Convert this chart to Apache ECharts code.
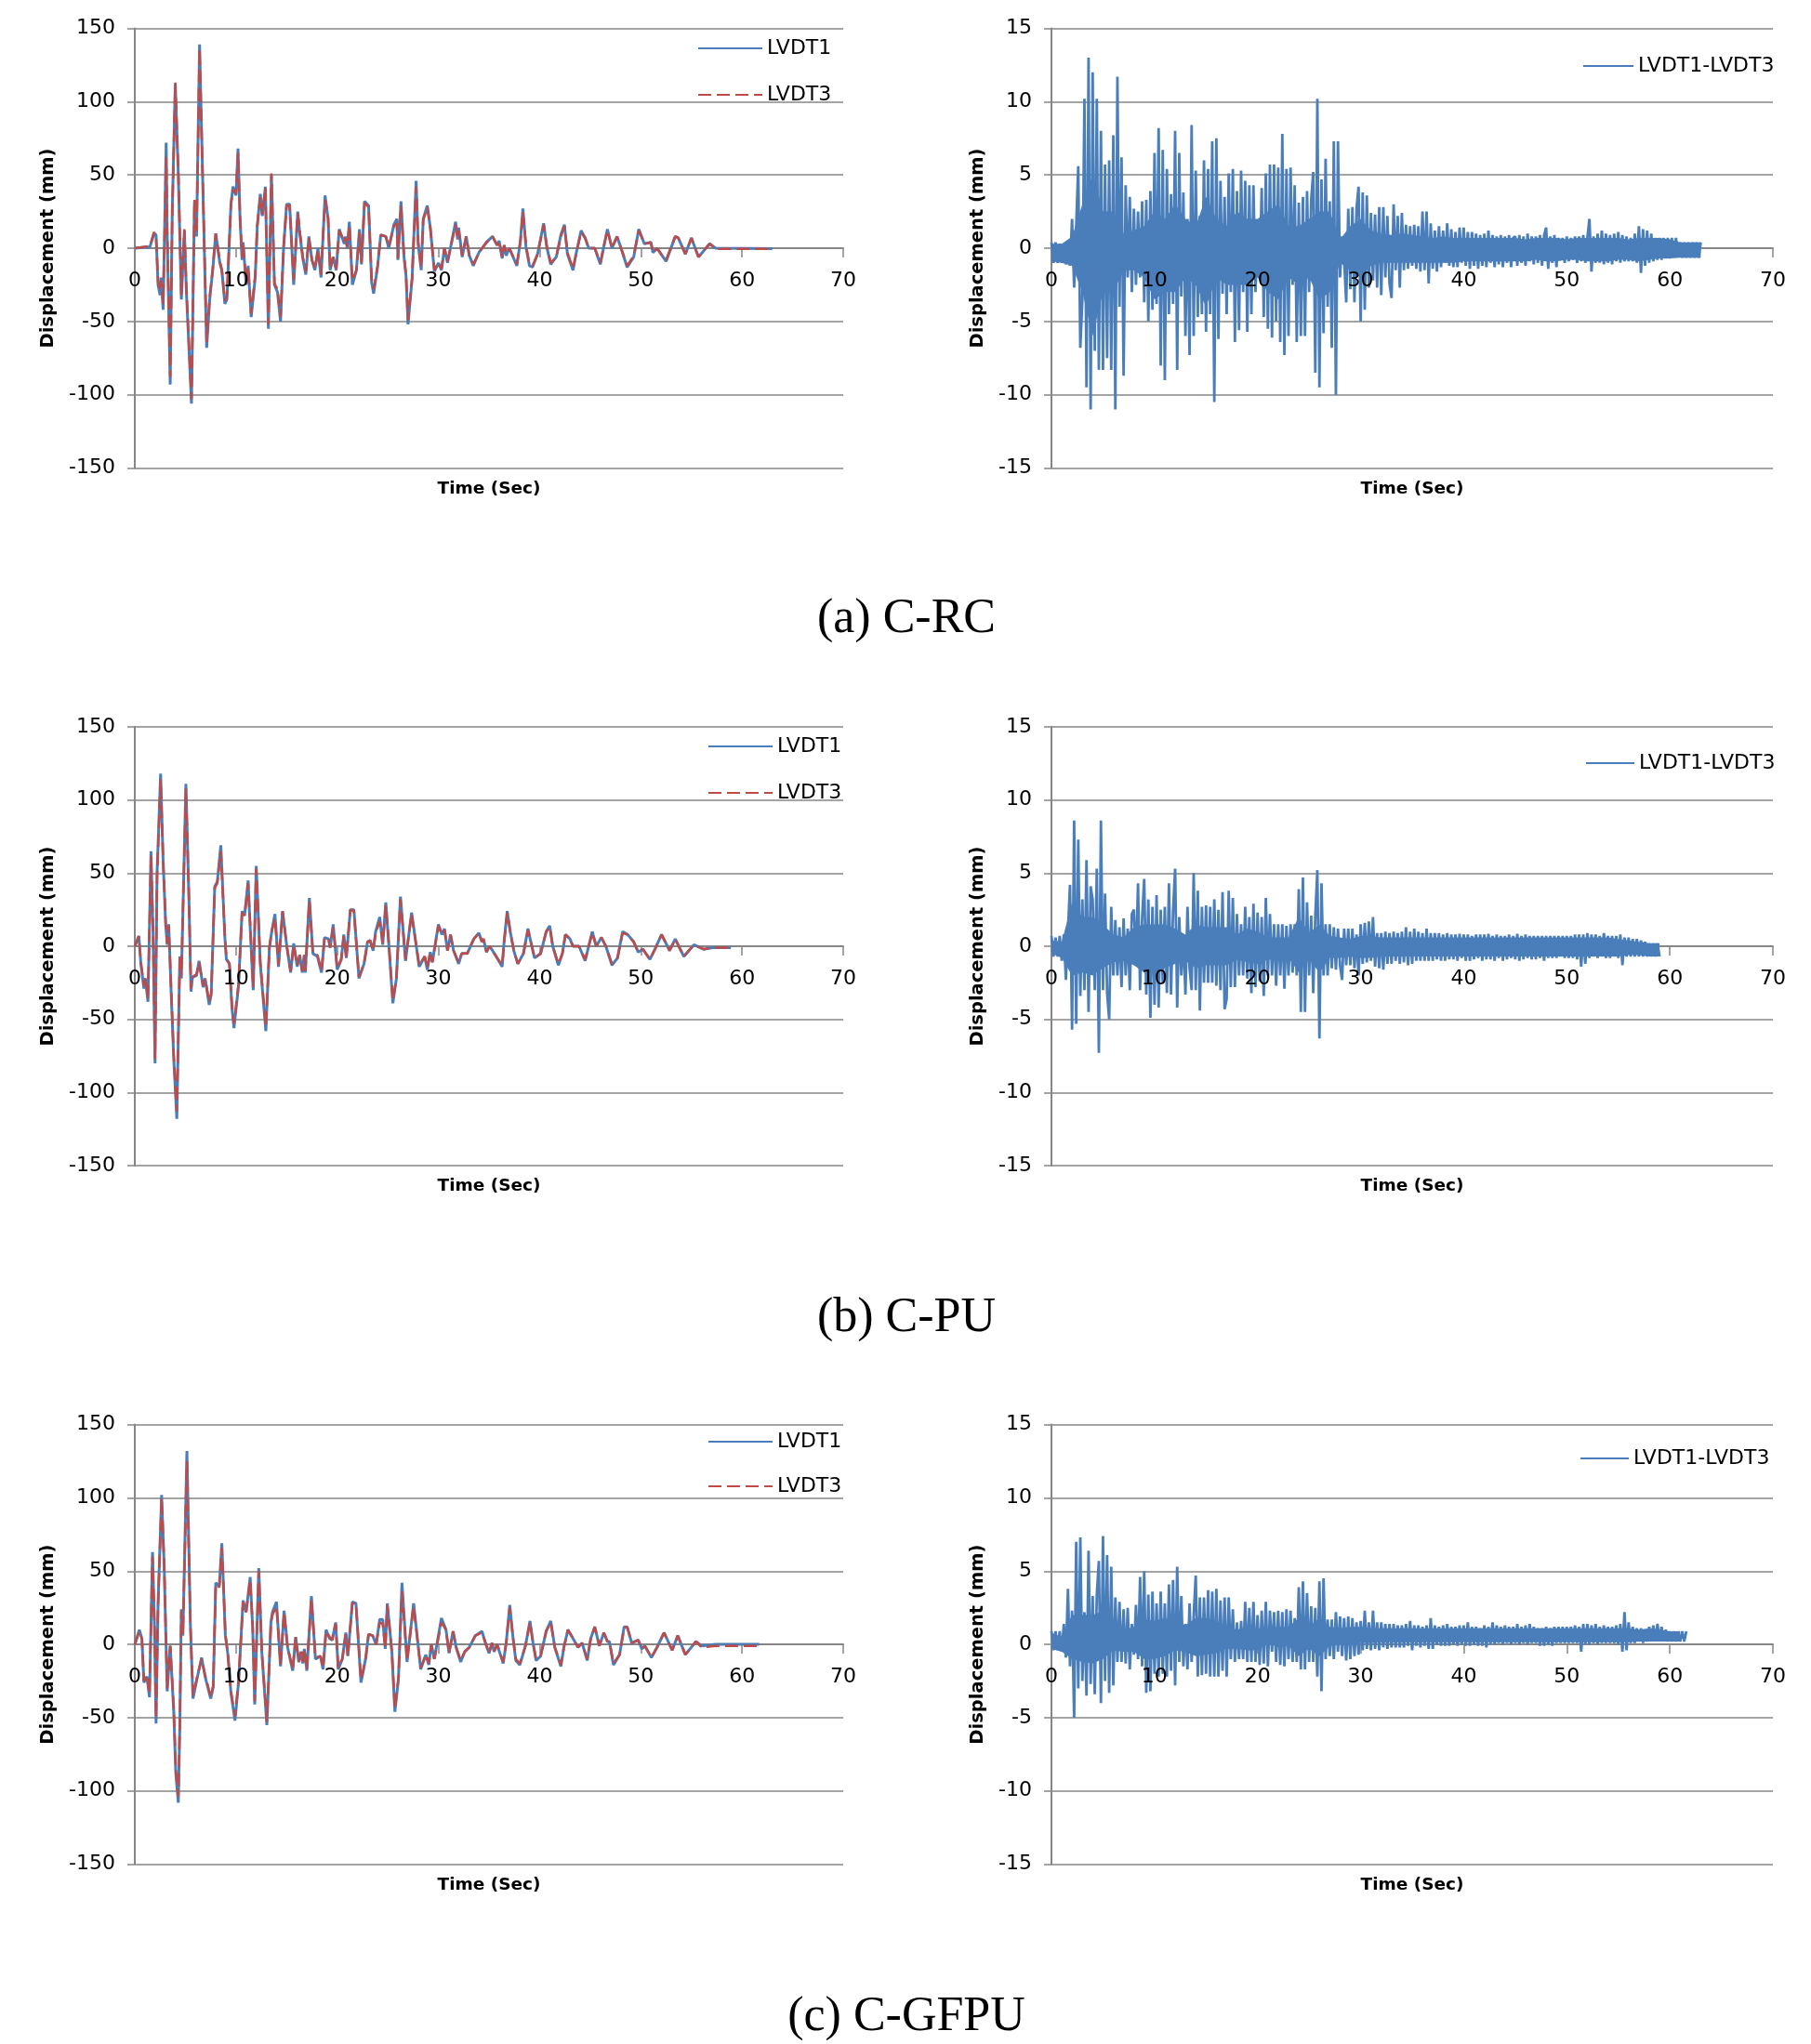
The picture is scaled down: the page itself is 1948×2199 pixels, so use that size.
<!DOCTYPE html>
<html>
<head>
<meta charset="utf-8">
<style>html,body{margin:0;padding:0;background:#fff}#c{width:1948px;height:2199px}</style>
<script src="https://cdn.jsdelivr.net/npm/echarts@6/dist/echarts.min.js"></script>
</head>
<body>
<div id="c"></div>
<script>
// Each row: time (s), LVDT1 (mm), LVDT3 (mm)
const rcRows = [[0,0,0],[1.5,1,1.5],[1.9,10,11],[2.1,9,8],[2.3,-25,-23],[2.5,-32,-29],[2.6,-20,-22],[2.8,-42,-38],[3.1,72,62],[3.2,10,12],[3.5,-93,-88],[3.7,25,22],[4,112,113],[4.3,50,52],[4.6,-35,-32],[4.9,12,13],[5.1,-30,-28],[5.6,-106,-103],[5.9,32,33],[6.1,8,10],[6.4,139,136],[6.8,20,22],[7.1,-68,-64],[7.4,-35,-33],[7.7,-15,-14],[8,10,10],[8.4,-10,-9],[8.6,-15,-15],[8.9,-38,-36],[9.1,-35,-33],[9.5,30,30],[9.7,42,40],[10,36,37],[10.2,68,65],[10.4,20,22],[10.6,-8,-6],[10.7,4,3],[11,-25,-23],[11.2,-12,-13],[11.5,-47,-45],[11.9,-20,-18],[12.1,15,15],[12.4,37,35],[12.6,22,23],[12.9,42,41],[13.2,-55,-52],[13.5,50,51],[13.8,-25,-24],[14.1,-30,-28],[14.4,-50,-47],[14.7,0,1],[15,30,29],[15.3,30,29],[15.7,-25,-22],[16.1,25,24],[16.3,10,12],[16.6,-7,-6],[16.9,-18,-16],[17.2,8,7],[17.5,-8,-8],[17.8,-15,-14],[18.1,0,-1],[18.4,-20,-18],[18.8,36,33],[19.1,20,21],[19.3,-15,-14],[19.6,-6,-6],[19.9,-15,-14],[20.2,13,12],[20.7,3,4],[20.8,8,7],[21,0,1],[21.2,18,16],[21.5,-25,-22],[21.9,-15,-15],[22.2,13,11],[22.4,-11,-10],[22.7,32,31],[23.1,29,28],[23.4,-23,-21],[23.6,-31,-28],[24,-12,-12],[24.3,9,9],[24.8,8,8],[25.1,0,1],[25.6,16,15],[25.9,20,17],[26,-8,-7],[26.3,32,29],[26.6,-6,-5],[26.8,-19,-18],[27,-52,-49],[27.4,-21,-20],[27.8,46,42],[28,3,4],[28.3,-15,-13],[28.5,20,19],[28.9,29,28],[29.2,14,14],[29.6,-16,-15],[30,-10,-10],[30.3,-15,-14],[30.6,0,0],[30.9,-10,-9],[31.7,18,16],[31.9,6,7],[32,14,12],[32.35,-6,-5],[32.75,8,8],[33.05,-5,-5],[33.45,-12,-11],[34,-3,-3],[34.75,4,4],[35.35,8,8],[35.8,2,2],[36,5,5],[36.3,-7,-6],[36.5,2,2],[36.7,-5,-4],[37,0,0],[37.75,-12,-11],[38.1,5,4],[38.35,27,25],[38.65,1,2],[39,-12,-11],[39.3,-13,-12],[39.8,-4,-4],[40.4,17,16],[40.7,1,2],[41.1,-11,-10],[41.65,-6,-6],[42.1,9,8],[42.45,16,15],[42.75,-4,-3],[43.3,-15,-14],[43.6,-4,-4],[44.1,12,11],[44.5,7,7],[44.85,0,0],[45.45,0,0],[46,-11,-10],[46.4,3,3],[46.7,13,12],[47.15,0,0],[47.65,8,8],[48.05,0,0],[48.65,-13,-12],[49.3,-6,-5],[49.8,13,12],[50.35,3,3],[51,4,4],[51.2,-3,-3],[51.6,0,0],[52,-4,-4],[52.5,-9,-8],[53.4,8,8],[53.7,7,7],[54.4,-4,-4],[55,7,7],[55.7,-6,-6],[56.8,3,3],[57.4,0,-.5],[63,-.3,-.5]];
const puRows = [[0,0,0],[.4,7,7],[.6,-12,-11],[.9,-29,-27],[1.05,-22,-21],[1.3,-38,-36],[1.6,65,62],[1.8,10,12],[2,-80,-77],[2.2,50,48],[2.55,118,114],[2.8,58,59],[3.05,15,16],[3.2,1,2],[3.35,15,14],[3.6,-33,-31],[3.85,-77,-75],[4.15,-118,-113],[4.45,-7,-8],[4.6,-22,-20],[5.05,111,108],[5.35,32,33],[5.55,-31,-29],[5.7,-21,-21],[6.1,-20,-19],[6.35,-10,-11],[6.75,-28,-27],[6.95,-22,-22],[7.35,-40,-38],[7.55,-33,-32],[7.9,41,40],[8.15,44,43],[8.5,69,65],[8.9,6,7],[9.05,-9,-8],[9.35,-12,-12],[9.6,-42,-40],[9.8,-56,-53],[10.25,-27,-26],[10.6,24,23],[10.85,21,21],[11.2,45,43],[11.3,28,29],[11.7,-30,-28],[12,55,53],[12.4,-12,-11],[12.95,-58,-55],[13.3,-1,-1],[13.55,11,11],[13.85,22,19],[14.2,-14,-13],[14.6,24,24],[15,1,1],[15.4,-18,-17],[15.7,2,1],[16.05,-14,-13],[16.3,-6,-6],[16.55,-18,-17],[16.75,-6,-6],[16.85,-18,-17],[17.25,33,31],[17.6,-5,-5],[18.05,-7,-6],[18.45,-18,-17],[18.75,6,6],[19.15,5,5],[19.3,-1,-1],[19.6,15,13],[20,-16,-15],[20.4,-9,-9],[20.65,8,7],[20.9,-8,-8],[21.3,25,25],[21.65,25,24],[22.15,-22,-21],[22.65,-12,-12],[23,3,3],[23.25,4,4],[23.55,-3,-3],[23.8,10,9],[24.2,20,17],[24.5,1,2],[24.8,30,28],[25.1,1,2],[25.5,-39,-37],[25.85,-22,-22],[26.25,34,32],[26.75,-10,-9],[27.35,23,22],[28.1,-14,-13],[28.65,-7,-7],[28.9,-16,-15],[29.2,-4,-4],[29.4,-11,-11],[30,15,14],[30.35,8,8],[30.6,12,11],[30.9,-3,-3],[31.2,8,8],[31.5,-3,-3],[32,-12,-11],[32.3,-5,-5],[32.85,-5,-5],[33.5,5,5],[34,9,9],[34.3,3,3],[34.45,5,5],[34.75,-4,-4],[35.05,0,0],[35.35,-3,-3],[35.8,-8,-8],[36.3,-14,-13],[36.5,4,3],[36.8,24,23],[37.1,10,10],[37.45,-3,-3],[37.85,-12,-12],[38.4,-5,-5],[38.85,12,11],[39.1,4,4],[39.5,-8,-8],[40.1,-5,-5],[40.65,10,10],[41,14,13],[41.3,0,0],[41.85,-13,-12],[42.25,-5,-5],[42.55,8,8],[43,5,5],[43.3,0,0],[43.9,0,0],[44.5,-10,-9],[44.85,0,0],[45.2,10,9],[45.6,0,0],[46.1,6,6],[46.55,0,0],[47.15,-13,-12],[47.7,-8,-8],[48.2,10,9],[48.7,8,8],[49.3,3,3],[49.75,-4,-4],[50.2,-2,-2],[50.9,-9,-9],[51.4,-2,-2],[52.05,8,8],[52.85,-3,-3],[53.4,5,5],[54.25,-7,-7],[55.25,1,1],[56.2,-2,-2],[57.1,-1,-1],[58.9,-1,-1]];
const gfpuRows = [[0,0,0],[.45,10,9],[.7,4,4],[.9,-26,-25],[1.2,-22,-21],[1.45,-36,-34],[1.75,63,60],[1.95,11,12],[2.1,-54,-50],[2.3,28,27],[2.65,102,100],[2.9,54,55],[3.2,-32,-30],[3.5,-1,-1],[3.85,-46,-44],[4.05,-88,-85],[4.3,-108,-104],[4.45,-55,-53],[4.6,24,23],[4.75,6,7],[5.15,132,125],[5.5,11,12],[5.75,-37,-35],[6.1,-25,-24],[6.6,-9,-10],[6.95,-22,-21],[7.5,-37,-36],[7.75,-29,-28],[8,42,41],[8.35,40,39],[8.6,69,66],[8.95,6,7],[9.2,-7,-7],[9.5,-33,-32],[9.9,-52,-49],[10.25,-26,-25],[10.7,30,29],[11,22,22],[11.4,46,44],[11.65,11,12],[11.85,-41,-39],[12.25,52,50],[12.55,-5,-5],[13.05,-55,-53],[13.45,15,15],[13.6,22,20],[14,29,26],[14.4,-15,-14],[14.75,23,22],[15.1,-2,-2],[15.6,-18,-17],[15.9,5,5],[16.2,-12,-12],[16.45,-5,-5],[16.6,-13,-12],[16.75,-3,-3],[17,-18,-17],[17.45,33,31],[17.85,-10,-9],[18.35,-8,-8],[18.6,-17,-16],[18.9,10,9],[19.25,4,5],[19.5,3,3],[19.85,15,14],[20.1,-17,-16],[20.5,-10,-10],[20.85,8,7],[21.05,-8,-8],[21.5,29,28],[21.85,28,28],[22.35,-26,-24],[22.8,-10,-11],[23.1,7,7],[23.5,6,6],[23.85,0,0],[24.2,17,15],[24.5,17,14],[24.75,-3,-3],[24.95,28,27],[25.4,-5,-5],[25.7,-46,-44],[26.05,-24,-23],[26.4,42,36],[26.9,-12,-11],[27.55,28,26],[28.25,-17,-16],[28.75,-7,-7],[29.05,-14,-13],[29.3,0,0],[29.6,-10,-10],[30.3,18,15],[30.75,10,10],[31.05,-6,-6],[31.45,9,9],[31.75,-2,-2],[32.2,-12,-11],[32.6,-5,-5],[33.05,-2,-2],[33.65,6,6],[34.3,9,8],[34.6,2,2],[35,-6,-6],[35.3,1,1],[35.5,-5,-5],[35.8,0,0],[36.4,-13,-12],[36.7,1,1],[37.05,27,25],[37.35,6,6],[37.65,-11,-10],[38.05,-14,-13],[38.6,-1,-1],[39.05,16,15],[39.35,1,1],[39.65,-11,-10],[40.1,-8,-8],[40.65,9,9],[41.1,16,15],[41.5,-2,-2],[42.1,-15,-14],[42.4,-2,-2],[42.8,10,10],[43.3,4,4],[43.8,-2,-2],[44.2,1,1],[44.7,-11,-10],[45.05,4,4],[45.45,12,12],[45.9,-1,-1],[46.35,8,8],[46.7,2,2],[46.9,2,2],[47.3,-14,-13],[47.9,-7,-7],[48.35,12,11],[48.65,12,12],[49.1,1,1],[49.75,3,3],[50.1,-3,-3],[50.4,-1,-1],[51.05,-9,-9],[51.6,-2,-2],[52.3,8,8],[53.1,-4,-4],[53.65,6,6],[54.4,-7,-7],[55.45,2,2],[56,-1,-2],[57.4,0,-1],[61.7,0,-1]];
// LVDT1-LVDT3 (mm) spikes, read every 0.2 s
const sampleStep = 0.2;
const rcDiff = [
.4,-1,.4,-1,.3, -1,.3,-1.1,.2,-1.2, 2,-2.7,1.5,5.6,-6.8, -3.5,10.2,-9.5,13,-11, 12,-7,10.2,-8.3,8,
-8.3,5.7,-7.5,6,-8.3, 7.7,-11,11.7,-4,6.2, -8.7,4.3,-2,3.5,-3, 2.7,-2.5,2.5,-2,3.2, -3.7,3.3,-5,3.9,-4.2,
6.5,-3.8,8.2,-8,6.7, -9,5.4,-4.5,3.7,-3.8, 8,-8.3,6.5,-3.3,3.8, -6,2,-7.3,8.4,-6, 5.3,-4.7,2.2,-4.5,6,
-5.7,5.4,-4.5,7.3,-10.5, 7.5,-6.2,4.6,-3.1,3.5, -4.5,5.1,-3,5.4,-6.4, 3.9,-5.6,5.3,-3,4.6, -5.7,4.3,-4.5,4.3,-3,
1.3,-2,4.1,-4.7,5.1, -5.5,5.7,-6.1,5.7,-5, 5.5,-6.4,7.8,-7.3,5.4, -6,5.5,-2.5,4.3,-6.4, 3.1,-6,3.5,-6,3.9,
-3,3.3,5.2,-8.5,10.2, -9.5,4.7,-5.8,6.1,-4, 3.2,-6.8,7.3,-10,7.3, -2,.8,-.8,-3.7,2.7, -2.8,2.8,-3.7,2.7,4.2,
-5,3.8,-4.2,3.6,-2.7, 2.4,-2.2,2.3,-2.7,2.8, -3.2,2.8,-2,2.2,-2.4, -3.4,3,-1.5,2.2,-2.7, 2.4,-1.5,1.6,-1.4,1.5,
-1.2,1.6,-1.4,1.5,-1.6, 2.5,-1.5,2.5,-2.4,1.7, -1.4,1.2,-1.6,1.5,-1.3, 1.2,-1,1.7,-1.2,1.3, -1.3,1.1,-1.3,1.4,-1,
1.4,-1.2,1.1,-1.4,1.1, -1.2,1,-1.4,.9,-1.2, 1,-1.3,1.2,-1,.9, -1.3,.8,-1.1,.9,-1.3, .8,-1,.9,-1.3,.7,
.8,-1.2,.9,-1,.8, -1.2,1,-.9,.8,-1.1, .8,-1,.9,-1.2,.9, 1.4,-1.4,.8,-1,.9, -1.3,.7,-.8,.7,-1,
.8,-.9,.7,-.8,.8, -1,.8,-.9,.9,-1, .7,2,-1.6,.8,-1, 1,-1,1.2,-1.1,1, -1,.9,-1.1,1,-.9,
1.1,-1,.9,-.9,.8, -.9,.7,-.9,1,-1, 1.5,-1.7,1.3,-1.2,1.2, -1,1,-.9,.7,-.8, .7,-.8,.7,-.7,.7,
-.7,.7,-.6,.7,-.6, .4,-.65,.4,-.65,.4, -.65,.4,-.65,.4,-.65, .4];
const puDiff = [
.7,-.7,.6,-.7,.7, -1,.8,-2.3,1,4.2, -5.7,8.6,-5.3,7.3,-3.4, 3.2,-3,5.9,-4.5,4.1, 3.2,-3,5.3,-7.3,8.6,
-3,3.6,-3.2,-5,2.7, -2,1.8,-2,1.3,-2.8, 1.9,-2,1.2,-3,2.2, 2.5,-1.2,4.3,-3,2, 4.6,-3.3,3.2,-4.9,2.7,
-4,3.5,-4.2,2.5,-2.5, 2.7,-3.2,4.3,-3.3,2.4, 5.3,-4.2,2,-2,.6, -3.3,2.7,-1.5,-3,5, -3,3.8,-4.4,2.7,-2.5,
2.8,-2.5,2.7,-2.5,3.2, -2.7,2.5,-3,3.7,-4.3, -3.6,3.8,-2.8,3.3,-2.8, 2.2,-2,1.5,-2,2.7, -2.2,2,-3.2,2.9,-2.8,
2.3,-2.4,2,-3.4,3.3, -2,2.2,-2,1.5,-2.7, 1.5,-2,1.5,-2.9,1.4, -2,1.5,-1.8,1.5,-2, 3.9,-4.5,4.7,-4.5,3,
-2,2.1,-3.2,2.1,5.2, -6.3,4.3,-2,1.5,-2, 1.5,-1.5,1.3,-1.6,1.2, -1.3,-2.3,1.2,-1.3,1.2, -1.3,1.2,-1.5,.8,-2,
1.5,-1.2,1.6,-1.1,1.7, -1,2,-1.4,.9,-1.5, .9,-1.6,1,-1.2,.9, -1.2,1,-1,.9,-1.2, 1,-1.1,1.3,-1.3,1,
-1.2,1.2,-1,1,-1, .9,-1,1.2,-1,.9, -1,.9,-.9,.9,-1, .8,-1,.9,-.9,.8, -.9,.8,-1,.85,-.8,
.8,-1,.8,-1,.7, -.9,.8,-.8,.8,-1, .8,-.9,.85,-.9,.7, -1,.8,-.8,.7,-1, .7,-.9,.8,-.8,.7,
-.9,.85,-1,.7,-.9, .8,-.8,.7,-.9,.7, -.9,.7,-.8,.7,-1, .7,-.8,.7,-.8,.7, -.8,.7,-.7,.7,-.8,
.7,-.8,.7,-.8,.8, -.9,.8,-1.4,.8,-1.2, .9,-.8,.8,-.7,.8, -.8,.7,-.7,.9,-.8, .7,-.8,.7,-.7,.7,
-.8,.8,-1.3,.6,-.7, .6,-.7,.5,-.7,.5, -.7,.4,-.7,.3,-.7, .2,-.7,.2,-.7,.2, -.7];
const gfpuDiff = [
.9,-.4,.9,-.4,.9, -.5,1.4,-.9,3.8,-1.5, 2.3,-5,7,-3,7.3, -2.5,2.2,-3.5,6.4,-2.7, 3.3,-3.4,3.4,5.7,-4,
7.4,-2.5,6.1,-3.3,5.3, -2.8,3.2,-1.2,2.9,-1.2, 2.4,-1.3,2.5,-1.7,1.4, -.7,2.7,-1,4.6,-1.5, 5,-3.3,3.4,-3.2,3.6,
-2,2.8,-2.2,3.6,-2, 2.8,-2.2,4.1,-1.8,4.4, -2.8,5.3,-1.2,3.3,-1.5, 1.4,-1.7,2.8,-1.2,2, 4.7,-2.2,3.2,-2.1,3.2,
-2,3.7,-2.2,3.6,-2.2, 3.8,-2.2,3,-1.8,3.2, -2.2,3.2,-1,2.4,-1.2, 1.5,-1,1.6,-1,2.9, -1.2,2.5,-1.2,2.9,-1.2,
2,-1.4,2.3,-1.3,2.9, -1.5,2.3,-.5,2.2,-1.2, 2.3,-1.4,2.2,-1.5,2.4, -1,2.3,-1.2,1.8,-1.2, 3.9,-1.7,4.3,-1.7,3.5,
-1.2,2.6,-1.2,2.5,-2.2, 4.3,-3.2,4.5,-1,1.7, -.8,1.7,-1,2.2,-.5, 1.9,-.8,1.8,-1.1,1.9, -1,1.8,-.8,1.5,-.7,
1.6,-.4,2.3,-.3,1.5, -.4,2.3,-.3,1.5,-.4, 1.5,-.2,1.4,-.3,1.4, -.2,1.4,-.2,1.3,-.2, 1.3,-.2,1.4,-.1,1.6,
-.4,1.3,-.1,1.3,-.2, 1.2,-.1,1.3,-.3,1.8, -.3,1.3,0,1.2,-.1, 1.3,-.1,1.4,-.1,1.2, 0,1.2,-.1,1.3,0,
1.3,-.1,1.5,-.1,1.2, 0,1.2,-.1,1.1,-.1, 1.3,-.2,1.2,0,1.5, 0,1.3,.1,1.2,0, 1.3,.1,1.2,0,1.2,
.1,1.4,0,1.2,.1, 1.3,0,1.4,.1,1.2, .1,1.1,-.1,1.1,-.1, 1.2,0,1.1,-.1,1.2, .1,1.2,.1,1.2,.1,
1.2,.1,1.2,.1,1.3, .1,1.2,-.5,1.4,0, 1.4,0,1.3,.1,1.4, 0,1.2,.1,1.3,.1, 1.2,.1,1.2,.1,1.3,
0,1.4,-.5,2.2,-.4, 1.5,.1,1.2,.1,1.1, .2,1.1,.1,1,.2, 1.2,.3,1.3,.3,1.4, .3,1.2,.3,1,.2,
.9,.2,.9,.2,.9, .2,.9,.2,.9];
// Solid core band of the LVDT1-LVDT3 trace: upper and lower edge (mm), read once per second
const rcCoreHi = [.3,.3,.8,3,5,2.5,2.5,1,1.2,1.5,2.5,2,3,2,1.5,3.5,2,1.5,2.5,2,2,2.5,3,1.5,1.5,2,2.5,2.5,.6,1.5,2,1.2,1,.9,1,.9,.8,.7,.8,.7,.7,.7,.7,.7,.7,.7,.6,.7,.7,.7,.6,.7,.7,.7,.7,.7,.6,.7,.7,.7,.6,.4,.4,.4];
const rcCoreLo = [-.9,-1,-1.2,-3,-6,-3,-3,-1.5,-1.5,-2,-3.5,-3,-3,-2,-2.5,-4,-2,-2.5,-2.5,-2.5,-2,-3,-3.5,-2,-2.5,-2,-3.5,-3,-1,-1.5,-2,-1.2,-1,-1,-1,-1,-1,-1,-1,-1,-.9,-.9,-.9,-.9,-.9,-.9,-.9,-.8,-.9,-.9,-.8,-.8,-.9,-.9,-.9,-.8,-.8,-.9,-.8,-.7,-.7,-.65,-.65,-.65];
const puCoreHi = [.4,.3,3,2,2,1.5,.8,.6,1.3,1.5,1.5,1.5,1.2,.8,1.5,1.3,1.3,1.3,.8,1.2,1,.6,.6,.6,2,.9,1.5,.7,.6,.5,.7,.7,.6,.6,.6,.6,.6,.6,.6,.6,.6,.6,.6,.6,.6,.6,.6,.6,.6,.6,.6,.6,.6,.6,.6,.5,.4,.3,.2,.2];
const puCoreLo = [-.5,-.8,-2,-1.8,-2,-1.5,-1.1,-1,-1.3,-1.8,-1.8,-1.5,-1.2,-1,-1.5,-1.3,-1.3,-1.3,-.9,-1.1,-1.2,-.9,-.9,-.8,-1.8,-.9,-1.8,-.8,-.8,-.7,-.8,-.8,-.7,-.7,-.7,-.7,-.7,-.7,-.7,-.7,-.7,-.7,-.7,-.7,-.7,-.7,-.7,-.7,-.7,-.7,-.7,-.7,-.7,-.7,-.7,-.7,-.6,-.6,-.7,-.7];
const gfpuCoreHi = [.8,.5,2,2,2,2.3,1,1,1.2,1.7,1.6,1.8,1.6,1.3,1.8,1.8,1.6,1.2,1,1.2,1.1,1.1,1.2,1.2,1.8,1.2,1.8,1.2,1.1,1.2,1.2,1.1,1.1,1.1,1.1,1.1,1.1,1.1,1.1,1.1,1.1,1.1,1.1,1.1,1.1,1.1,1.1,1.1,1.1,1.1,1.1,1.1,1.1,1.1,1.1,1.1,1.1,1,1.1,1,.9,.9];
const gfpuCoreLo = [-.3,-.5,-1,-1.2,-1.3,-1,-.4,-.5,-.5,-1,-1,-.8,-.4,-.5,-.8,-.7,-.6,-.3,-.3,-.4,-.4,.1,-.2,-.1,-.8,-.3,-.8,-.1,0,0,.1,.1,.15,.15,.15,.15,.15,.15,.15,.15,.15,.15,.15,.15,.15,.15,.15,.15,.15,.15,.15,.15,.15,.15,.15,.15,.15,.2,.2,.2,.2,.2];
const coreEnd = [63.1,59,61.7];
const captions = ['(a) C-RC','(b) C-PU','(c) C-GFPU'];
const yTitle = 'Displacement (mm)';
const xTitle = 'Time (Sec)';

const BLUE='#4a7ebb', RED='#be4b48', GRAY='#868686';
const rowTops=[30.5,782,1532.6], rowH=[473,472,473];
const panels=[
 {left:145,right:907,top:0,rows:rcRows},{left:1131,right:1907,top:0,diff:rcDiff,hi:rcCoreHi,lo:rcCoreLo},
 {left:145,right:907,top:1,rows:puRows},{left:1131,right:1907,top:1,diff:puDiff,hi:puCoreHi,lo:puCoreLo},
 {left:145,right:907,top:2,rows:gfpuRows},{left:1131,right:1907,top:2,diff:gfpuDiff,hi:gfpuCoreHi,lo:gfpuCoreLo}
];
const font='"DejaVu Sans"';
const grid=[],xAxis=[],yAxis=[],series=[],labelAxes=[];
panels.forEach((p,i)=>{
  grid.push({left:p.left,top:rowTops[p.top],width:p.right-p.left,height:rowH[p.top],containLabel:false});
  // Axis line and ticks sit under the traces.
  xAxis.push({type:'value',gridIndex:i,min:0,max:70,interval:10,position:'bottom',splitLine:{show:false},z:1,
    axisLine:{show:true,onZero:true,lineStyle:{color:GRAY,width:2}},
    axisTick:{show:true,length:10,lineStyle:{color:GRAY,width:1.5}},
    axisLabel:{show:false}});
  // Same scale again, carrying only the tick labels and title, drawn above the traces.
  labelAxes.push({type:'value',gridIndex:i,min:0,max:70,interval:10,position:'bottom',splitLine:{show:false},z:10,
    axisLine:{show:false,onZero:false},axisTick:{show:false},
    axisLabel:{show:true,color:'#000',fontFamily:font,fontSize:22,margin:-212,showMinLabel:true,showMaxLabel:true,hideOverlap:false},
    name:xTitle,nameLocation:'middle',nameGap:13,nameMoveOverlap:false,
    nameTextStyle:{color:'#000',fontFamily:font,fontWeight:'bold',fontSize:18.5}});
  const isL=!!p.rows;
  yAxis.push({type:'value',gridIndex:i,min:isL?-150:-15,max:isL?150:15,interval:isL?50:5,
    splitLine:{show:true,lineStyle:{color:GRAY,width:1.5}},
    axisLine:{show:true,lineStyle:{color:GRAY,width:2}},axisTick:{show:true,length:8,lineStyle:{color:GRAY,width:1.5}},
    axisLabel:{color:'#000',fontFamily:font,fontSize:22,margin:21,showMinLabel:true,showMaxLabel:true},
    name:yTitle,nameLocation:'middle',nameGap:isL?83:69,nameRotate:90,nameMoveOverlap:false,
    nameTextStyle:{color:'#000',fontFamily:font,fontWeight:'bold',fontSize:19.5}});
  const base={type:'line',xAxisIndex:i,yAxisIndex:i,showSymbol:false,symbol:'none',silent:true,animation:false,clip:false,smooth:false};
  if(isL){
    series.push({...base,name:'LVDT1',data:p.rows.map(r=>[r[0],r[1]]),lineStyle:{color:BLUE,width:3},itemStyle:{color:BLUE},z:3});
    series.push({...base,name:'LVDT3',data:p.rows.map(r=>[r[0],r[2]]),lineStyle:{color:RED,width:2.5,type:[14,6]},itemStyle:{color:RED},z:4});
  }else{
    const end=coreEnd[p.top];
    series.push({type:'custom',xAxisIndex:i,yAxisIndex:i,silent:true,animation:false,clip:false,z:3,data:[[0,0]],
      renderItem:(params,api)=>{
        const xs=k=>Math.min(k,end);
        const up=p.hi.map((v,k)=>api.coord([xs(k),v]));
        const dn=p.lo.map((v,k)=>api.coord([xs(k),v])).reverse();
        return {type:'polygon',shape:{points:up.concat(dn)},style:{fill:BLUE}};
      }});
    series.push({...base,name:'LVDT1-LVDT3',data:p.diff.map((v,k)=>[k*sampleStep,v]),lineStyle:{color:BLUE,width:2.8,join:'bevel'},itemStyle:{color:BLUE},z:3});
  }
});
const legendText={color:'#000',fontFamily:font,fontSize:22};
const mkL=(left,top,names,w,gap)=>({left,top,orient:'vertical',data:names,itemWidth:w,itemHeight:14,itemGap:gap,selectedMode:false,textStyle:legendText,padding:0,z:10,itemStyle:{opacity:0}});
const L2=['LVDT1','LVDT3'],L1=['LVDT1-LVDT3'];
const legend=[
 mkL(750,41,L2,69,28),mkL(1702,60,L1,54,0),
 mkL(761,792,L2,69,28),mkL(1705,810,L1,52,0),
 mkL(761,1540,L2,69,26),mkL(1699,1558,L1,52,0)
];
const captionY=[661,1413,2165];
const title=captions.map((c,i)=>({text:c,left:970,top:captionY[i],textAlign:'center',textVerticalAlign:'middle',
  textStyle:{color:'#000',fontFamily:'"Liberation Serif"',fontWeight:'normal',fontSize:52}}));
const chart=echarts.init(document.getElementById('c'),null,{renderer:'canvas',width:1948,height:2199});
chart.setOption({backgroundColor:'#fff',animation:false,grid,xAxis:xAxis.concat(labelAxes),yAxis,series,legend,title,tooltip:{show:false}});
</script>
</body>
</html>
